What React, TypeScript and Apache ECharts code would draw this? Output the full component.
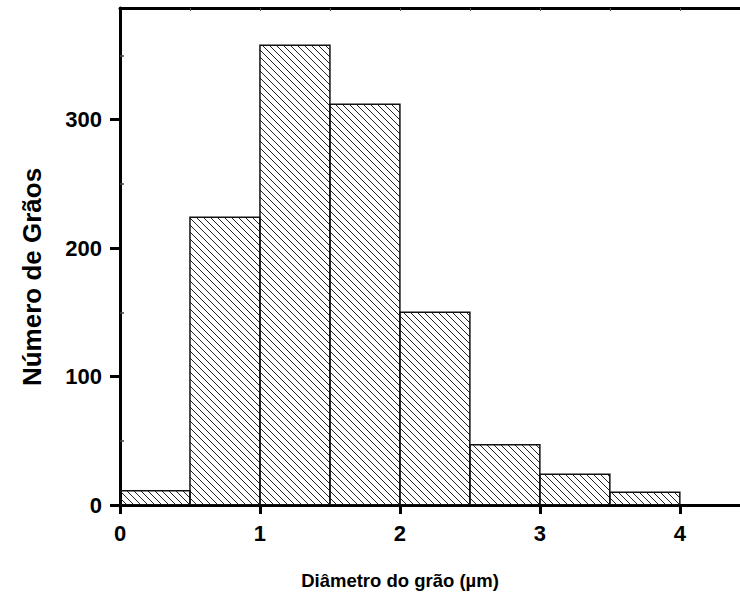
import React, { useEffect, useRef } from "react";
import * as echarts from "echarts";

const binStarts = [0, 0.5, 1, 1.5, 2, 2.5, 3, 3.5];
const binWidth = 0.5;
const counts = [11, 224, 358, 312, 150, 47, 24, 10];
const xTickValues = [0, 1, 2, 3, 4];
const xMinorTicks = [0.5, 1, 1.5, 2, 2.5, 3, 3.5, 4];
const yTickValues = [0, 100, 200, 300];
const yMinorTicks = [50, 150, 250, 350];
const xTitle = "Diâmetro do grão (µm)";
const yTitle = "Número de Grãos";

const FONT = '"Liberation Sans", Arial, Helvetica, sans-serif';

export default function App() {
  const ref = useRef<HTMLDivElement>(null);

  useEffect(() => {
    if (!ref.current) return;
    const chart = echarts.init(ref.current, null, { renderer: "svg" });
    const data = binStarts.map((s, i) => [s, s + binWidth, counts[i]]);
    const step = 7;

    const renderItem = (params: any, api: any) => {
      const x0v = api.value(0);
      const x1v = api.value(1);
      const yv = api.value(2);
      const pTop = api.coord([x0v, yv]);
      const pBot = api.coord([x1v, 0]);
      const x0 = pTop[0];
      const y0 = pTop[1];
      const x1 = pBot[0];
      const y1 = pBot[1];
      const children: any[] = [];
      const cMin = y0 - x1;
      const cMax = y1 - x0;
      for (let k = Math.ceil(cMin / step); k <= Math.floor(cMax / step); k++) {
        const c = k * step;
        const xs = Math.max(x0, y0 - c);
        const xe = Math.min(x1, y1 - c);
        if (xe > xs + 0.3) {
          children.push({
            type: "line",
            shape: { x1: xs, y1: xs + c, x2: xe, y2: xe + c },
            style: { stroke: "#222", lineWidth: 1 },
            silent: true,
          });
        }
      }
      children.push({
        type: "rect",
        shape: { x: x0, y: y0, width: x1 - x0, height: y1 - y0 },
        style: { fill: "none", stroke: "#111", lineWidth: 1.5 },
      });
      return { type: "group", children };
    };

    const labelStyle = {
      fontFamily: FONT,
      fontWeight: "bold" as const,
      fontSize: 22,
      color: "#000",
    };

    chart.setOption({
      animation: false,
      backgroundColor: "#fff",
      grid: { left: 120, top: 8, right: 0, bottom: 98, containLabel: false },
      xAxis: [
        {
          type: "value",
          position: "bottom",
          min: 0,
          max: 4.43,
          interval: 1,
          splitLine: { show: false },
          axisLine: { show: true, onZero: false, lineStyle: { color: "#000", width: 3 } },
          axisTick: {
            show: true,
            length: 9,
            lineStyle: { color: "#000", width: 3 },
            customValues: xTickValues,
          },
          axisLabel: { ...labelStyle, margin: 17, customValues: xTickValues },
        },
        {
          type: "value",
          position: "top",
          min: 0,
          max: 4.43,
          interval: 0.5,
          splitLine: { show: false },
          axisLine: { show: true, onZero: false, lineStyle: { color: "#000", width: 3 } },
          axisTick: {
            show: true,
            inside: true,
            length: 3,
            lineStyle: { color: "#555", width: 1 },
            customValues: xMinorTicks,
          },
          axisLabel: { show: false },
        },
      ],
      yAxis: [
        {
          type: "value",
          position: "left",
          min: 0,
          max: 387,
          interval: 100,
          splitLine: { show: false },
          axisLine: { show: true, onZero: false, lineStyle: { color: "#000", width: 3 } },
          axisTick: {
            show: true,
            length: 10,
            lineStyle: { color: "#000", width: 3 },
            customValues: yTickValues,
          },
          axisLabel: { ...labelStyle, margin: 18, customValues: yTickValues },
        },
        {
          type: "value",
          position: "left",
          min: 0,
          max: 387,
          interval: 50,
          splitLine: { show: false },
          axisLine: { show: false, onZero: false },
          axisTick: {
            show: true,
            inside: true,
            length: 4,
            lineStyle: { color: "#444", width: 1.5 },
            customValues: yMinorTicks,
          },
          axisLabel: { show: false },
        },
      ],
      graphic: [
        {
          type: "text",
          x: 400,
          y: 580,
          style: {
            text: xTitle,
            fontFamily: FONT,
            fontWeight: "bold",
            fontSize: 18.5,
            fill: "#000",
            align: "center",
            verticalAlign: "middle",
          },
        },
        {
          type: "text",
          x: 32,
          y: 277,
          rotation: Math.PI / 2,
          style: {
            text: yTitle,
            fontFamily: FONT,
            fontWeight: "bold",
            fontSize: 26,
            fill: "#000",
            align: "center",
            verticalAlign: "middle",
          },
        },
      ],
      series: [
        {
          type: "custom",
          xAxisIndex: 0,
          yAxisIndex: 0,
          renderItem,
          encode: { x: [0, 1], y: 2 },
          data,
          clip: true,
        },
      ],
    });

    return () => chart.dispose();
  }, []);

  return (
    <div
      ref={ref}
      style={{ position: "fixed", left: 0, top: 0, width: 740, height: 603 }}
    />
  );
}
